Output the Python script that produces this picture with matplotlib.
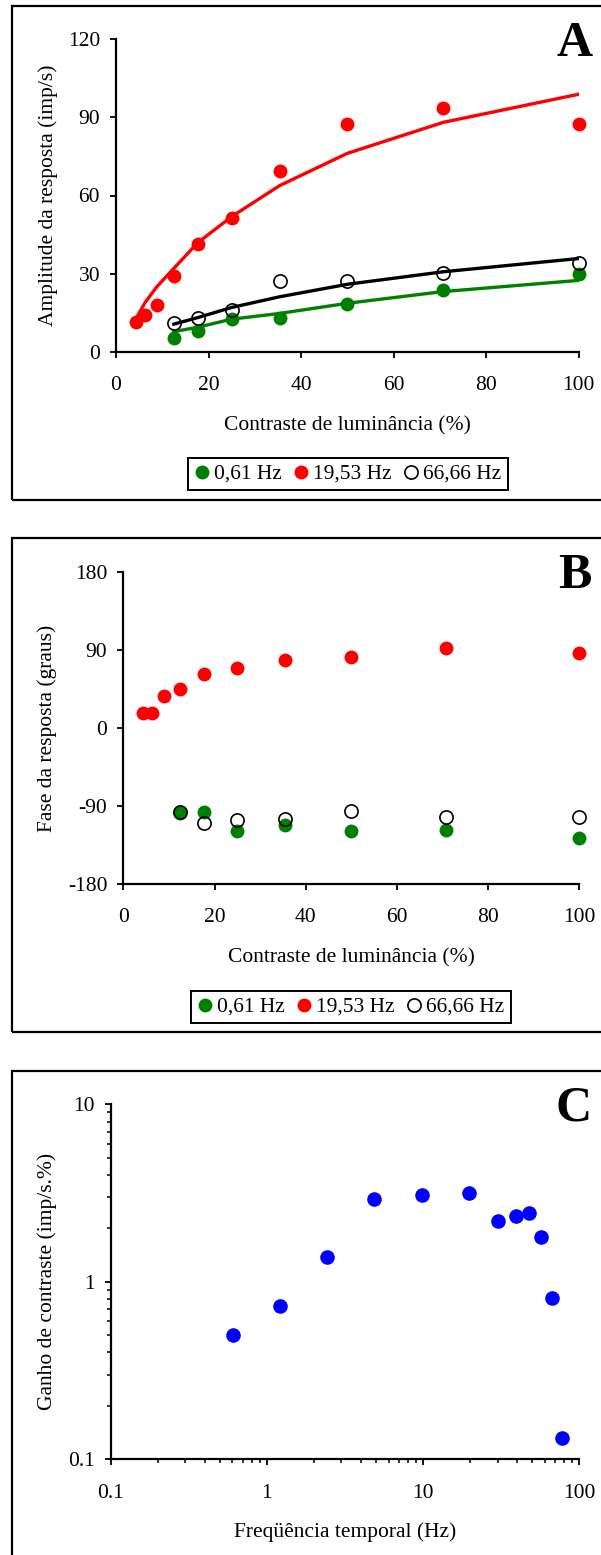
import matplotlib
matplotlib.use("Agg")
import matplotlib.pyplot as plt
from matplotlib.lines import Line2D
from matplotlib.patches import Rectangle
from matplotlib.ticker import FixedLocator, FixedFormatter, LogLocator, NullFormatter

plt.rcParams['font.family'] = ['Liberation Serif', 'DejaVu Serif']
plt.rcParams['font.size'] = 15.5
plt.rcParams['axes.unicode_minus'] = False

# ---------------- data ----------------
contrast_red = [4.42, 6.25, 8.84, 12.5, 17.68, 25, 35.36, 50, 70.71, 100]
contrast_low = [12.5, 17.68, 25, 35.36, 50, 70.71, 100]

amp_061 = [5.4, 7.9, 12.6, 13.1, 18.3, 23.8, 29.7]
amp_1953 = [11.5, 14.1, 18.0, 29.0, 41.3, 51.3, 69.6, 87.6, 93.8, 87.3]
amp_6666 = [11.1, 12.8, 16.0, 27.3, 27.2, 30.4, 34.2]

fit_061 = [7.7, 9.4, 12.5, 14.7, 18.6, 23.1, 27.4]
fit_1953 = [13.0, 18.8, 25.0, 32.0, 41.9, 51.9, 63.8, 76.2, 88.1, 98.9]
fit_6666 = [10.6, 13.1, 17.0, 21.1, 25.9, 30.7, 35.8]

phase_061 = [-98.4, -97.3, -118.4, -111.9, -118.4, -117.7, -126.9]
phase_1953 = [17.9, 17.9, 36.8, 44.9, 62.6, 69.8, 78.4, 82.6, 92.6, 86.8]
phase_6666 = [-96.5, -109.2, -106.2, -105.0, -95.8, -103.1, -102.3]

freq_c = [0.61, 1.22, 2.44, 4.88, 9.77, 19.53, 30.2, 39.06, 47.7, 56.9, 66.66, 77.6]
gain_c = [0.50, 0.729, 1.38, 2.93, 3.09, 3.15, 2.21, 2.34, 2.45, 1.79, 0.809, 0.131]

legend_labels = ['0,61 Hz', '19,53 Hz', '66,66 Hz']
GREEN = '#008000'
RED = '#ff0000'
BLUE = '#0000ff'

W, H = 601, 1555
fig = plt.figure(figsize=(W / 100, H / 100), dpi=100)


def fx(px):
    return px / W


def fy(py):
    return 1 - py / H


def make_axes(left, right, top, bottom):
    return fig.add_axes([fx(left), fy(bottom), fx(right) - fx(left), fy(top) - fy(bottom)])


def style(ax):
    for s in ['top', 'right']:
        ax.spines[s].set_visible(False)
    for s in ['left', 'bottom']:
        ax.spines[s].set_linewidth(1.6)
    ax.tick_params(axis='both', which='major', direction='out', length=4.5, width=1.3)
    ax.tick_params(axis='both', which='minor', direction='out', length=3, width=1.1)
    ax.tick_params(axis='x', which='both', pad=13)
    ax.tick_params(axis='y', which='both', pad=7)


# frames around the panels (right edge cropped in the reference)
for top, bottom in [(6, 500), (538.3, 1031.7), (1070.7, 1600)]:
    fig.patches.append(Rectangle((fx(12.3), fy(bottom)), fx(700) - fx(12.3), fy(top) - fy(bottom),
                                 transform=fig.transFigure, fill=False, edgecolor='black',
                                 linewidth=1.6, zorder=0))

MS = 10
OMS = 9.5

# ---------------- panel A ----------------
axA = make_axes(116, 578.8, 39.3, 351.7)
style(axA)
axA.plot(contrast_low, fit_061, color=GREEN, lw=2.4, zorder=2)
axA.plot(contrast_red, fit_1953, color=RED, lw=2.4, zorder=2)
axA.plot(contrast_low, fit_6666, color='black', lw=2.4, zorder=2)
axA.plot(contrast_low, amp_061, 'o', color=GREEN, ms=MS, mec='none', clip_on=False, zorder=3)
axA.plot(contrast_red, amp_1953, 'o', color=RED, ms=MS, mec='none', clip_on=False, zorder=3)
axA.plot(contrast_low, amp_6666, 'o', mfc='none', mec='black', mew=1.2, ms=OMS, clip_on=False, zorder=4)
axA.set_xlim(0, 100)
axA.set_ylim(0, 120)
axA.set_xticks([0, 20, 40, 60, 80, 100])
axA.set_yticks([0, 30, 60, 90, 120])
axA.set_xlabel('Contraste de luminância (%)')
axA.set_ylabel('Amplitude da resposta (imp/s)')
axA.xaxis.set_label_coords(0.5, -0.205)
axA.yaxis.set_label_coords(-0.125, 0.5)

# ---------------- panel B ----------------
axB = make_axes(123.3, 579.3, 572.3, 884)
style(axB)
axB.plot(contrast_low, phase_061, 'o', color=GREEN, ms=MS, mec='none', clip_on=False, zorder=3)
axB.plot(contrast_red, phase_1953, 'o', color=RED, ms=MS, mec='none', clip_on=False, zorder=3)
axB.plot(contrast_low, phase_6666, 'o', mfc='none', mec='black', mew=1.2, ms=OMS, clip_on=False, zorder=4)
axB.set_xlim(0, 100)
axB.set_ylim(-180, 180)
axB.set_xticks([0, 20, 40, 60, 80, 100])
axB.set_yticks([-180, -90, 0, 90, 180])
axB.set_xlabel('Contraste de luminância (%)')
axB.set_ylabel('Fase da resposta (graus)')
axB.xaxis.set_label_coords(0.5, -0.206)
axB.yaxis.set_label_coords(-0.145, 0.5)

# ---------------- panel C ----------------
axC = make_axes(110.7, 579.4, 1104.3, 1459.3)
style(axC)
axC.plot(freq_c, gain_c, 'o', color=BLUE, ms=MS + 0.5, mec='none', clip_on=False, zorder=3)
axC.set_xscale('log')
axC.set_yscale('log')
axC.set_xlim(0.1, 100)
axC.set_ylim(0.1, 10)
axC.xaxis.set_major_locator(FixedLocator([0.1, 1, 10, 100]))
axC.xaxis.set_major_formatter(FixedFormatter(['0.1', '1', '10', '100']))
axC.yaxis.set_major_locator(FixedLocator([0.1, 1, 10]))
axC.yaxis.set_major_formatter(FixedFormatter(['0.1', '1', '10']))
axC.xaxis.set_minor_locator(LogLocator(base=10, subs=range(2, 10)))
axC.yaxis.set_minor_locator(LogLocator(base=10, subs=range(2, 10)))
axC.xaxis.set_minor_formatter(NullFormatter())
axC.yaxis.set_minor_formatter(NullFormatter())
axC.set_xlabel('Freqüência temporal (Hz)')
axC.set_ylabel('Ganho de contraste (imp/s.%)')
axC.xaxis.set_label_coords(0.5, -0.176)
axC.yaxis.set_label_coords(-0.1146, 0.5)

# ---------------- panel letters ----------------
for letter, xc, base in [('A', 575, 56), ('B', 575, 588), ('C', 574, 1120.7)]:
    fig.text(fx(xc), fy(base), letter, ha='center', va='baseline',
             fontsize=36, fontweight='bold')

# ---------------- legends ----------------
handles = [
    Line2D([], [], linestyle='none', marker='o', color=GREEN, mec='none', ms=MS),
    Line2D([], [], linestyle='none', marker='o', color=RED, mec='none', ms=MS),
    Line2D([], [], linestyle='none', marker='o', mfc='none', mec='black', mew=1.2, ms=OMS),
]
for cx, cy in [(348, 474), (351, 1007)]:
    leg = fig.legend(handles, legend_labels, loc='center', bbox_to_anchor=(fx(cx), fy(cy)),
                     ncol=3, frameon=True, fancybox=False, framealpha=1,
                     edgecolor='black', handlelength=0.7, handletextpad=0.2,
                     columnspacing=0.55, borderpad=0.3, borderaxespad=0,
                     fontsize=15.5)
    leg.get_frame().set_linewidth(1.4)

fig.savefig('out.png', dpi=100)
